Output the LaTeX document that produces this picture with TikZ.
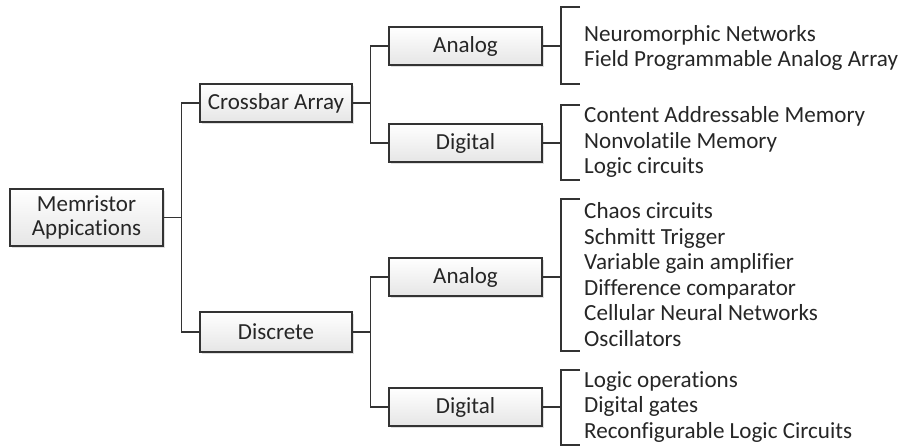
\documentclass[tikz,border=0pt]{standalone}
\usepackage{fontspec}
\setmainfont[Ligatures=NoCommon]{Carlito}
\usetikzlibrary{shadows}
\begin{document}
\begin{tikzpicture}[x=1pt,y=-1pt,
  conn/.style={draw=black!80, line width=1.3pt},
  boxnode/.style={draw=black!80, line width=1.3pt, top color=white, bottom color=black!10,
    drop shadow={shadow xshift=2pt, shadow yshift=-2pt, opacity=0.25},
    minimum width=153pt, minimum height=38pt, inner sep=0pt, align=center,
    font=\fontsize{23}{24}\selectfont, text=black!85},
  listnode/.style={anchor=west, inner sep=0pt, align=left,
    font=\fontsize{23.1}{25.5}\selectfont, text=black!85}]
\useasboundingbox (0,0) rectangle (902,446);
% boxes
\node[boxnode, minimum height=57pt] (root) at (86.5,217.5) {Memristor\\Appications};
\node[boxnode, minimum width=152pt] (cross) at (276,103) {Crossbar Array};
\node[boxnode, minimum width=152pt, minimum height=40pt] (disc) at (276,332) {Discrete};
\node[boxnode] (an1) at (465.5,46) {Analog};
\node[boxnode] (dg1) at (465.5,143) {Digital};
\node[boxnode] (an2) at (465.5,277) {Analog};
\node[boxnode] (dg2) at (465.5,407) {Digital};
% junctions
\coordinate (j0) at (181.5,217.5);
\coordinate (j1) at (370.5,103);
\coordinate (j2) at (370.5,332);
\draw[conn] (root.east) -- (j0);
\draw[conn] (cross.west) -| (j0) |- (disc.west);
\draw[conn] (cross.east) -- (j1);
\draw[conn] (an1.west) -| (j1) |- (dg1.west);
\draw[conn] (disc.east) -- (j2);
\draw[conn] (an2.west) -| (j2) |- (dg2.west);
% brackets
\coordinate (b1) at (561,46);  \coordinate (b1t) at (580,7);   \coordinate (b1b) at (580,84);
\coordinate (b2) at (561,143); \coordinate (b2t) at (580,105); \coordinate (b2b) at (580,180);
\coordinate (b3) at (561,277); \coordinate (b3t) at (580,199); \coordinate (b3b) at (580,351);
\coordinate (b4) at (561,407); \coordinate (b4t) at (580,370); \coordinate (b4b) at (580,445);
\draw[conn] (an1.east) -- (b1);
\draw[conn] (b1t) -| (b1) |- (b1b);
\draw[conn] (dg1.east) -- (b2);
\draw[conn] (b2t) -| (b2) |- (b2b);
\draw[conn] (an2.east) -- (b3);
\draw[conn] (b3t) -| (b3) |- (b3b);
\draw[conn] (dg2.east) -- (b4);
\draw[conn] (b4t) -| (b4) |- (b4b);
% lists
\node[listnode] (l1) at (584,48) {Neuromorphic Networks\\Field Programmable Analog Array};
\node[listnode] (l2) at (584,142) {Content Addressable Memory\\Nonvolatile Memory\\Logic circuits};
\node[listnode] (l3) at (584,274.5) {Chaos circuits\\Schmitt Trigger\\Variable gain amplifier\\Difference comparator\\Cellular Neural Networks\\Oscillators};
\node[listnode] (l4) at (584,407) {Logic operations\\Digital gates\\Reconfigurable Logic Circuits};
\end{tikzpicture}
\end{document}
